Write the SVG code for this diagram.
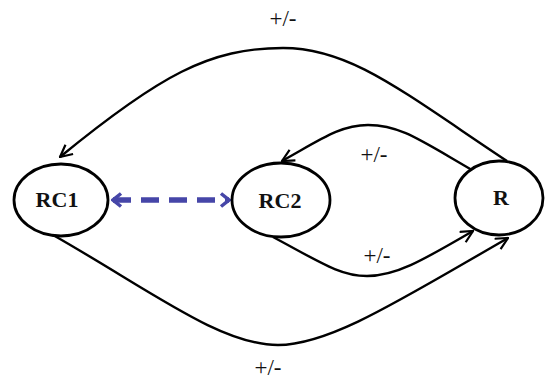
<svg xmlns="http://www.w3.org/2000/svg" width="545" height="380" viewBox="0 0 545 380">
<defs>
<style>
.node ellipse{fill:#fff;stroke:#000;stroke-width:2.8}
.node text{font-family:"Liberation Serif",serif;font-weight:bold;font-size:22px;text-anchor:middle;fill:#111}
.edge{fill:none;stroke:#000;stroke-width:2.4}
.lbl{font-family:"Liberation Serif",serif;font-size:23px;text-anchor:middle;fill:#111}
.blue{fill:none;stroke:#4646a8;stroke-width:5.5;stroke-dasharray:18 10}
</style>
<marker id="ah" viewBox="0 0 14 14" refX="13" refY="7" markerWidth="14" markerHeight="14" markerUnits="userSpaceOnUse" orient="auto">
<path d="M1,1 L13,7 L1,13" fill="none" stroke="#000" stroke-width="2.2"/>
</marker>
<marker id="bh" viewBox="0 0 12 16" refX="10" refY="8" markerWidth="12" markerHeight="16" markerUnits="userSpaceOnUse" orient="auto-start-reverse">
<path d="M2,1.5 L10,8 L2,14.5" fill="none" stroke="#4646a8" stroke-width="3.5"/>
</marker>
</defs>
<rect width="545" height="380" fill="#fff"/>
<g id="connectors">
<path class="edge" d="M507,161 C400,90 350,48 283,48 C210,48 160,75 60,157" marker-end="url(#ah)"/>
<path class="edge" d="M472,170 C420,140 400,125 368,125 C340,125 320,140 282,161" marker-end="url(#ah)"/>
<path class="edge" d="M273,237 C320,262 340,276 367,276 C395,276 420,262 473,231" marker-end="url(#ah)"/>
<path class="edge" d="M53,235 C150,290 220,345 278,345 C330,345 400,300 508,238" marker-end="url(#ah)"/>
<path class="blue" d="M113,200 L229,200" marker-start="url(#bh)" marker-end="url(#bh)"/>
</g>
<g id="labels">
<text class="lbl" x="283" y="26">+/-</text>
<text class="lbl" x="374" y="162">+/-</text>
<text class="lbl" x="377" y="263">+/-</text>
<text class="lbl" x="268" y="375">+/-</text>
</g>
<g id="RC1" class="node">
<ellipse cx="61" cy="200" rx="47" ry="36"/>
<text x="57" y="207">RC1</text>
</g>
<g id="RC2" class="node">
<ellipse cx="281" cy="200" rx="49" ry="37"/>
<text x="280" y="208">RC2</text>
</g>
<g id="R" class="node">
<ellipse cx="499" cy="198" rx="44" ry="37"/>
<text x="501" y="205">R</text>
</g>
</svg>
